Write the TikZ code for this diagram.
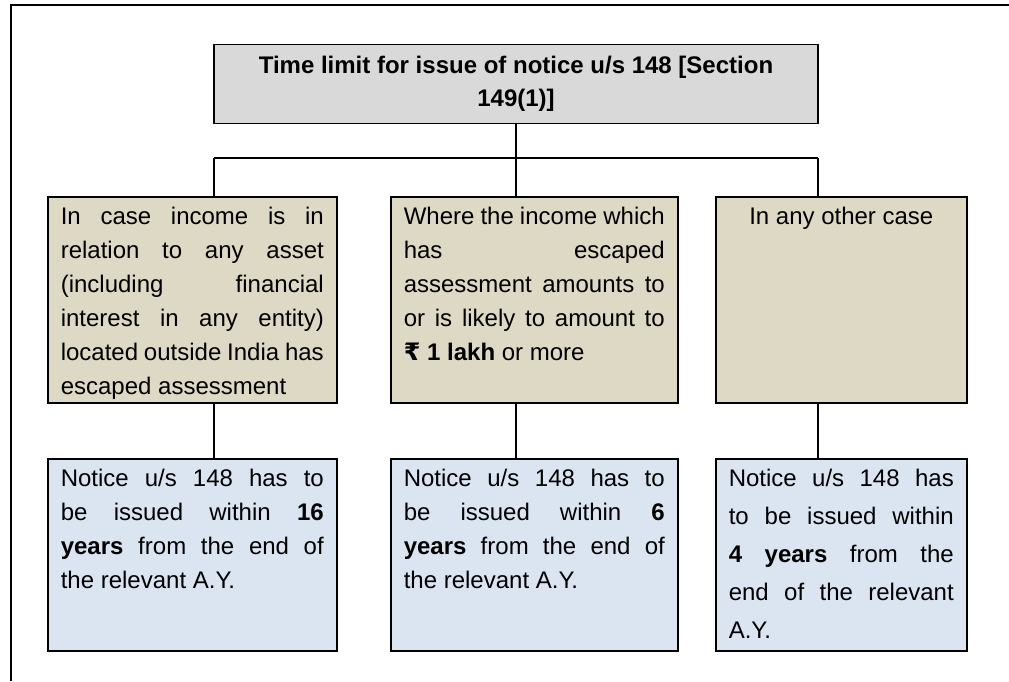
\documentclass[tikz,border=0pt]{standalone}
\usepackage{fontspec}
\setmainfont{Liberation Sans}
\newfontfamily\rupeefont{DejaVu Sans}
\definecolor{topgray}{HTML}{D9D9D9}
\definecolor{tan}{HTML}{DDD9C4}
\definecolor{paleblue}{HTML}{DBE5F1}
\newcommand\jline[1]{\makebox[\linewidth][s]{#1}\\}
\newcommand\firststrut{\rule{0pt}{28pt}}
\begin{document}
\begin{tikzpicture}[x=1pt,y=-1pt,
  boxstyle/.style={draw=black, line width=1.6pt, inner ysep=0pt, inner xsep=13pt, anchor=north west},
  conn/.style={draw=black, line width=1.6pt}]
\useasboundingbox (0,0) rectangle (1009,681);
\draw[line width=1.8pt] (11,681) -- (11,5) -- (1009,5);

\node[draw=black, line width=1.6pt, fill=topgray, minimum width=604pt, minimum height=79pt,
  align=center, font=\fontsize{24}{33}\selectfont\bfseries] (top) at (516,84)
  {Time limit for issue of notice u/s 148 [Section\\149(1)]};

\node[boxstyle, fill=tan, font=\fontsize{24}{34}\selectfont] (a1) at (47,196) {\parbox[t][206pt][t]{263pt}{%
\firststrut\jline{In case income is in}%
\jline{relation to any asset}%
\jline{(including financial}%
\jline{interest in any entity)}%
\jline{located outside India has}%
escaped assessment}};

\node[boxstyle, fill=tan, font=\fontsize{24}{34}\selectfont] (a2) at (390,196) {\parbox[t][206pt][t]{261pt}{%
\firststrut\jline{Where the income which}%
\jline{has escaped}%
\jline{assessment amounts to}%
\jline{or is likely to amount to}%
\textbf{{\rupeefont ₹} 1 lakh} or more}};

\node[boxstyle, fill=tan, font=\fontsize{24}{34}\selectfont] (a3) at (715,196) {\parbox[t][206pt][t]{225pt}{%
\centering\firststrut In any other case}};

\node[boxstyle, fill=paleblue, font=\fontsize{24}{34}\selectfont] (b1) at (47,458) {\parbox[t][192pt][t]{263pt}{%
\firststrut\jline{Notice u/s 148 has to}%
\jline{be issued within \textbf{16}}%
\jline{\textbf{years} from the end of}%
the relevant A.Y.}};

\node[boxstyle, fill=paleblue, font=\fontsize{24}{34}\selectfont] (b2) at (390,458) {\parbox[t][192pt][t]{261pt}{%
\firststrut\jline{Notice u/s 148 has to}%
\jline{be issued within \textbf{6}}%
\jline{\textbf{years} from the end of}%
the relevant A.Y.}};

\node[boxstyle, fill=paleblue, font=\fontsize{24}{38}\selectfont] (b3) at (715,458) {\parbox[t][192pt][t]{225pt}{%
\firststrut\jline{Notice u/s 148 has}%
\jline{to be issued within}%
\jline{\textbf{4 years} from the}%
\jline{end of the relevant}%
A.Y.}};

\coordinate (bar) at (516,158);
\coordinate (barL) at (214,158);
\coordinate (barR) at (818,158);
\draw[conn] (top.south) -- (bar);
\draw[conn] (barL) -- (barR);
\draw[conn] (barL) -- (barL |- a1.north);
\draw[conn] (bar) -- (bar |- a2.north);
\draw[conn] (barR) -- (barR |- a3.north);
\draw[conn] (a1.south -| barL) -- (barL |- b1.north);
\draw[conn] (a2.south -| bar) -- (bar |- b2.north);
\draw[conn] (a3.south -| barR) -- (barR |- b3.north);
\end{tikzpicture}
\end{document}
